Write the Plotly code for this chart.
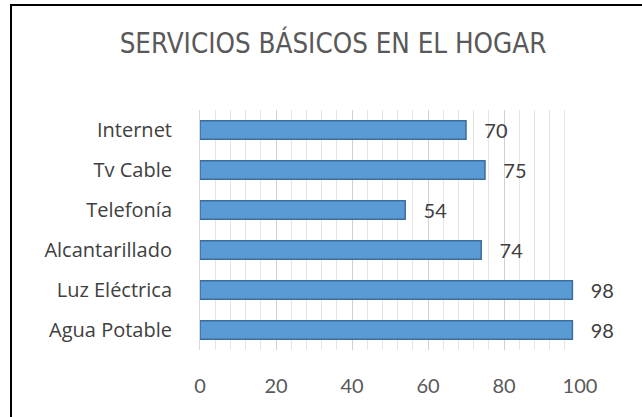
import plotly.graph_objects as go

categories = ["Agua Potable", "Luz Eléctrica", "Alcantarillado", "Telefonía", "Tv Cable", "Internet"]
values = [98, 98, 74, 54, 75, 70]
tick_vals = [0, 20, 40, 60, 80, 100]
tick_text = ["0", "20", "40", "60", "80", "100"]
title_text = "SERVICIOS BÁSICOS EN EL HOGAR"

FONT = "Open Sans, Lato, sans-serif"
NFONT = "Lato, Open Sans, sans-serif"
TFONT = "DejaVu Sans Condensed, Lato, sans-serif"
W, H = 642, 417
ML, MR, MT, MB = 200, 62, 110, 67
pw, ph = W - ML - MR, H - MT - MB

fig = go.Figure()
fig.add_trace(go.Bar(
    y=categories, x=values, orientation="h",
    marker=dict(color="#5B9BD5", line=dict(color="#3C6E9E", width=1.5)),
    width=0.46,
    text=["\u00a0\u00a0\u00a0" + str(v) for v in values], textposition="outside",
    constraintext="none",
    textfont=dict(family=NFONT, size=20, color="#404040"),
    cliponaxis=False,
    hoverinfo="skip",
))

fig.update_layout(
    width=W, height=H,
    margin=dict(l=ML, r=MR, t=MT, b=MB),
    paper_bgcolor="white", plot_bgcolor="white",
    showlegend=False,
    title=dict(text=title_text, x=333 / W, xanchor="center", y=1 - 43 / H, yanchor="middle",
               font=dict(family=TFONT, size=27.5, color="#595959")),
    xaxis=dict(range=[0, 100], tickvals=tick_vals, ticktext=tick_text,
               showgrid=True, gridcolor="#D0D0D0", gridwidth=1,
               minor=dict(dtick=4, showgrid=True, gridcolor="#E4E4E4", gridwidth=1),
               zeroline=False, showline=False, ticks="",
               ticklabelstandoff=22,
               tickfont=dict(family=NFONT, size=20, color="#595959")),
    yaxis=dict(showgrid=False, zeroline=False, showline=True, linecolor="#D9D9D9",
               ticks="", ticklabelstandoff=23,
               tickfont=dict(family=FONT, size=20, color="#404040")),
    shapes=[dict(type="rect", xref="paper", yref="paper",
                 x0=(11 - ML) / pw, x1=(W + 5 - ML) / pw,
                 y0=-(MB + 5) / ph, y1=(H - MB - 5) / ph,
                 line=dict(color="black", width=2), fillcolor="rgba(0,0,0,0)", layer="below")],
)

fig.write_html("out.html", config={"displayModeBar": False},
               post_script="document.body.style.margin='0';")
